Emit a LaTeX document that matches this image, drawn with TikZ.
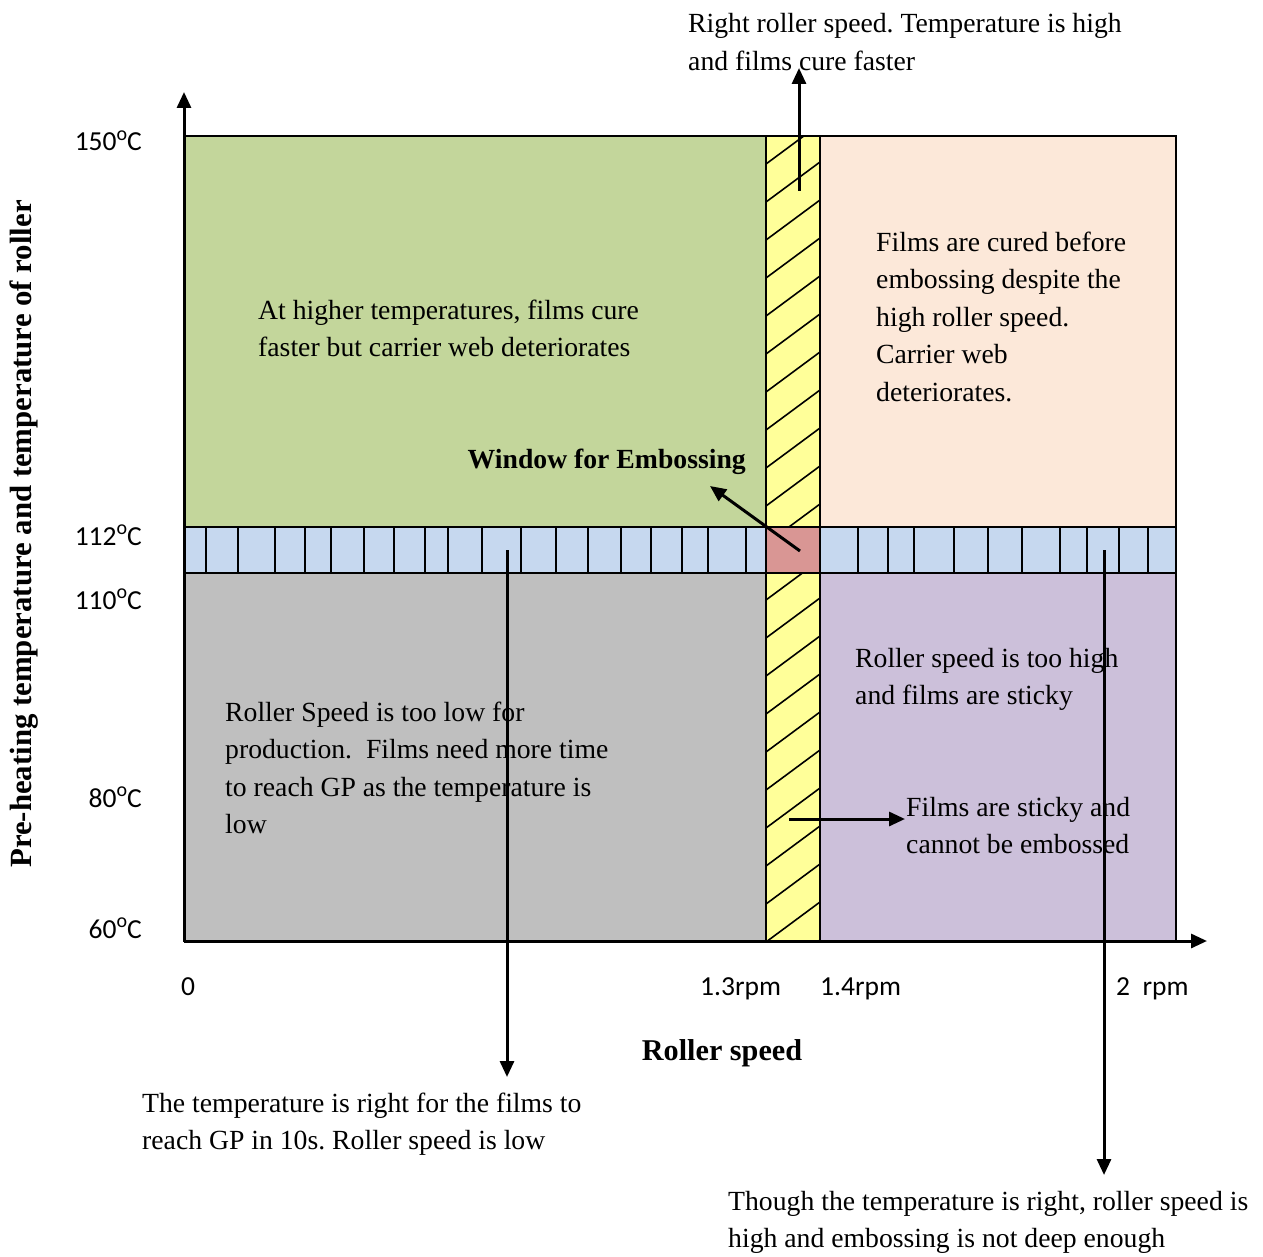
\documentclass[tikz,border=0pt]{standalone}
\usepackage{fontspec}
\setmainfont{Liberation Serif}
\newfontfamily\ticksf{Carlito}
\usetikzlibrary{arrows.meta}
\definecolor{cgreen}{HTML}{C3D69B}
\definecolor{cpeach}{HTML}{FCE8D9}
\definecolor{cblue}{HTML}{C6D8EF}
\definecolor{cgray}{HTML}{BFBFBF}
\definecolor{cpurple}{HTML}{CCC0DA}
\definecolor{cyellow}{HTML}{FFFF99}
\definecolor{cred}{HTML}{D99694}
\newcommand{\degsym}{\raisebox{0.8ex}{\fontsize{20}{20}\selectfont o}}
\frenchspacing
\begin{document}
\begin{tikzpicture}[x=1pt,y=-1pt,
  txt/.style={anchor=base west, align=left, inner sep=0pt, font=\fontsize{27.7}{37.5}\selectfont},
  btxt/.style={inner sep=0pt, font=\bfseries\fontsize{30.2}{32}\selectfont},
  tick/.style={inner sep=0pt, font=\ticksf\fontsize{27.5}{30}\selectfont},
  arr/.style={line width=3pt, -{Triangle[length=16pt,width=14pt]}},
  border/.style={draw=black, line width=2pt},
  hatch/.style={line width=1.6pt}]
\useasboundingbox (0,0) rectangle (1263,1257);
% regions
\fill[cgreen] (184,136) rectangle (766,527);
\fill[cpeach] (820,136) rectangle (1176,527);
\fill[cgray] (184,573) rectangle (766,941);
\fill[cpurple] (820,573) rectangle (1176,941);
\fill[cblue] (184,527) rectangle (1176,573);
\fill[cyellow] (766,136) rectangle (820,527);
\fill[cyellow] (766,573) rectangle (820,941);
\fill[cred] (766,527) rectangle (820,573);
% hatching
\begin{scope}
  \clip (766,136) rectangle (820,527);
  \foreach \y in {164,202,...,560} \draw[hatch] (766,\y) -- (820,\y-40);
\end{scope}
\begin{scope}
  \clip (766,573) rectangle (820,941);
  \foreach \y in {600,638,...,990} \draw[hatch] (766,\y) -- (820,\y-40);
\end{scope}
% strip cells
\foreach \x in {206,238,275,305,331,364,394,425,448,482,521,556,588,621,651,682,708,746,858,888,914,954,988,1022,1060,1087,1119,1148}
  \draw[line width=1.8pt] (\x,527) -- (\x,573);
% borders
\draw[border] (184,136) rectangle (1176,941);
\draw[border] (766,136) -- (766,941);
\draw[border] (820,136) -- (820,941);
\draw[border] (184,527) -- (1176,527);
\draw[border] (184,573) -- (1176,573);
% axes
\coordinate (origin) at (184,941);
\coordinate (ytip) at (184,92);
\coordinate (xtip) at (1207,941);
\draw[arr] (origin) -- (ytip);
\draw[arr] (origin) -- (xtip);
% tick labels
\node[tick, anchor=base east] (t150) at (142,151) {150\degsym C};
\node[tick, anchor=base east] (t112) at (142,545) {112\degsym C};
\node[tick, anchor=base east] (t110) at (142,609) {110\degsym C};
\node[tick, anchor=base east] (t80) at (142,807) {80\degsym C};
\node[tick, anchor=base east] (t60) at (142,938) {60\degsym C};
\node[tick, anchor=base west] (x0) at (181,995) {0};
\node[tick, anchor=base west] (x13) at (700,995) {1.3rpm};
\node[tick, anchor=base west] (x14) at (820,995) {1.4rpm};
\node[tick, anchor=base west] (x2) at (1116,995) {2\ \ rpm};
% axis titles
\node[btxt] (xlabel) at (722,1053) {Roller speed};
\node[btxt, rotate=90, font=\bfseries\fontsize{30.8}{32}\selectfont] (ylabel) at (24,534) {Pre-heating temperature and temperature of roller};
% texts (anchor = baseline of last line)
\node[txt] (ttop) at (688,70.5) {Right roller speed. Temperature is high\\and films cure faster};
\node[txt] (tgreen) at (258,356.5) {At higher temperatures, films cure\\faster but carrier web deteriorates};
\node[txt] (tpeach) at (876,401) {Films are cured before\\embossing despite the\\high roller speed.\\Carrier web\\deteriorates.};
\node[txt, anchor=base east, font=\bfseries\fontsize{27.7}{37.5}\selectfont] (twin) at (746,468) {Window for Embossing};
\node[txt] (tpurple) at (855,704.5) {Roller speed is too high\\and films are sticky};
\node[txt] (tgray) at (225,833.5) {Roller Speed is too low for\\production.\ \ Films need more time\\to reach GP as the temperature is\\low};
\node[txt] (tsticky) at (906,853.5) {Films are sticky and\\cannot be embossed};
\node[txt] (tleft) at (142,1149.5) {The temperature is right for the films to\\reach GP in 10s. Roller speed is low};
\node[txt] (tright) at (728,1247.5) {Though the temperature is right, roller speed is\\high and embossing is not deep enough};
% arrows
\coordinate (aTopS) at (799,191);
\coordinate (aTopE) at (799,68);
\coordinate (aWinS) at (800,551);
\coordinate (aWinE) at (710,486);
\coordinate (aLS) at (507,550);
\coordinate (aLE) at (507,1077);
\coordinate (aRS) at (1104,550);
\coordinate (aRE) at (1104,1175);
\coordinate (aHS) at (789,819);
\coordinate (aHE) at (905,819);
\draw[arr] (aTopS) -- (aTopE);
\draw[arr] (aWinS) -- (aWinE);
\draw[arr] (aLS) -- (aLE);
\draw[arr] (aRS) -- (aRE);
\draw[arr] (aHS) -- (aHE);
\end{tikzpicture}
\end{document}
